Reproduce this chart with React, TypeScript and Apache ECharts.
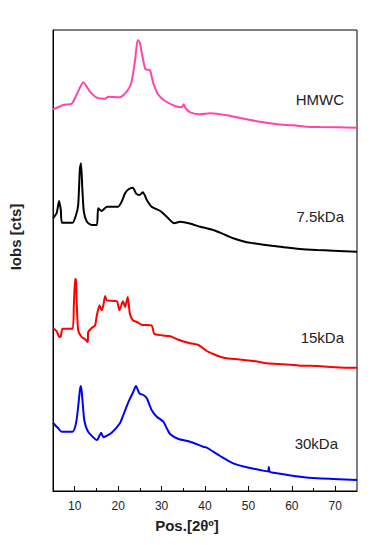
import React, { useEffect, useRef } from "react";
import * as echarts from "echarts";

// 2θ positions (degrees) and observed intensities (arbitrary, stacked offsets)
const hmwcX = [5, 7.4, 9.3, 10.4, 12, 13.5, 15.1, 17, 17.7, 20.4, 22, 23.1, 23.9, 24.5, 25, 25.6, 26.3, 27.3, 28.1, 29.3, 30.8, 33.1, 34.6, 35.1, 35.5, 36.6, 38.9, 41.2, 45, 50.4, 54.2, 56.5, 60.4, 63.5, 66.5, 75];
const hmwcY = [381.7, 386, 387.3, 396, 408.7, 399.3, 393.3, 392.3, 394.3, 393.7, 399.3, 409.3, 431, 451, 448.3, 434.3, 421.7, 421, 407.7, 396, 390, 385, 383.7, 386.7, 383, 378.7, 376.7, 377.7, 375.7, 371, 368.3, 366.7, 365.7, 364.3, 364, 363.3];

const k75X = [5, 5.85, 6.4, 6.8, 7.1, 9.5, 10.3, 10.8, 11.2, 11.45, 11.75, 12.1, 12.8, 13.9, 15.1, 15.4, 16.2, 17.4, 20, 20.8, 21.6, 22.4, 23.4, 24.1, 24.9, 25.7, 26.6, 27.7, 29.7, 31.2, 32.9, 34.3, 36.5, 38.9, 41.9, 43.5, 46.5, 49.6, 51.2, 55.8, 58.1, 61.9, 65.8, 69.5, 75];
const k75Y = [272.7, 278, 290, 281, 268.3, 268.3, 276, 286, 322.7, 327.7, 302.7, 279.3, 269.3, 266, 266, 282.7, 280, 284.3, 284.3, 289.3, 297.7, 301.7, 303.3, 297.7, 296, 298.7, 291, 284.3, 280, 274.3, 267.7, 269.3, 267.5, 264.3, 261, 258.3, 252.7, 248.7, 247.7, 245, 243.7, 242, 241, 240.3, 239.3];

const k15X = [5, 5.85, 6.45, 6.8, 7.2, 9.5, 9.8, 10.1, 10.3, 10.45, 10.8, 11.6, 12.4, 13, 13.1, 13.9, 14.7, 15.1, 15.7, 16.2, 16.6, 17, 17.4, 19.7, 20.3, 21.1, 21.6, 22.2, 22.7, 23.4, 24.3, 25.4, 27.7, 28.3, 30, 32, 33.9, 36.6, 38.5, 40.4, 41.9, 43.5, 45, 48.9, 51.2, 54.3, 58.1, 61.9, 65.8, 72.7, 75];
const k15Y = [163, 159.7, 154, 154.7, 162.3, 162.3, 185.7, 212.3, 210.7, 189, 160.7, 154, 151.7, 149, 159, 163, 165.7, 175.7, 185.7, 180.7, 185.7, 195, 190.7, 189.7, 180.7, 189.7, 184, 194, 177.3, 170.7, 169, 166.3, 165.7, 157.3, 155.7, 154.7, 151.3, 147.7, 146, 140, 137, 134.3, 132.7, 131, 130, 127.7, 126.7, 125.3, 125, 123.3, 123.3];

const k30X = [5, 6.2, 7, 9.5, 10.3, 10.8, 11.2, 11.45, 11.75, 12.2, 13.1, 15.1, 16.1, 16.6, 18.5, 20.4, 21.2, 22.4, 23.4, 24.1, 24.9, 25.8, 26.6, 27.7, 28.9, 30.4, 31.2, 32, 33.9, 36.6, 39.6, 40.4, 41.9, 43.5, 46.5, 49.6, 52.7, 54.5, 54.7, 54.9, 56.5, 58.1, 61.9, 65.8, 69.6, 75];
const k30Y = [68.3, 62.7, 59.3, 59.3, 67.7, 84.3, 101, 105, 92.7, 71, 59.3, 51, 58.3, 53.7, 58.3, 67.7, 76, 89.3, 98.3, 105, 97.7, 96, 92.7, 81, 74.3, 69.3, 62.7, 56.7, 52, 49.3, 44.3, 43.3, 39.3, 35, 27.7, 23.7, 21, 19.5, 24, 19.3, 17.7, 16.7, 14.3, 12.7, 12, 11];

const seriesNames = ["HMWC", "7.5kDa", "15kDa", "30kDa"];
const seriesColors = ["#ff44aa", "#000000", "#ff0000", "#0000ff"];
const xMajorTicks = [10, 20, 30, 40, 50, 60, 70];
const xMinorTicks = [15, 25, 35, 45, 55, 65];

const pairs = (xs: number[], ys: number[]) => xs.map((x, i) => [x, ys[i]]);

export default function App() {
  const ref = useRef<HTMLDivElement>(null);
  useEffect(() => {
    if (!ref.current) return;
    const chart = echarts.init(ref.current, undefined, { renderer: "svg" });
    const dataSets = [pairs(hmwcX, hmwcY), pairs(k75X, k75Y), pairs(k15X, k15Y), pairs(k30X, k30Y)];
    const labelPos = [
      { x: 344, y: 99 },
      { x: 344, y: 216 },
      { x: 344, y: 337 },
      { x: 338, y: 443 },
    ];
    const font = "'Liberation Sans', Arial, sans-serif";
    chart.setOption({
      animation: false,
      backgroundColor: "#ffffff",
      grid: {
        left: 53,
        right: 32,
        top: 30,
        bottom: 54,
        show: true,
        borderColor: "#000",
        borderWidth: 1,
        backgroundColor: "transparent",
      },
      xAxis: [
        {
          type: "value",
          min: 5,
          max: 75,
          axisLine: { show: true, lineStyle: { color: "#000", width: 1 } },
          axisTick: { show: true, inside: true, length: 5, customValues: xMajorTicks, lineStyle: { color: "#000" } },
          axisLabel: { show: true, customValues: xMajorTicks, color: "#222", fontSize: 12, fontFamily: font, margin: 9 },
          splitLine: { show: false },
        },
        {
          type: "value",
          min: 5,
          max: 75,
          position: "bottom",
          axisLine: { show: false },
          axisTick: { show: true, inside: true, length: 3, customValues: xMinorTicks, lineStyle: { color: "#000" } },
          axisLabel: { show: false },
          splitLine: { show: false },
        },
      ],
      yAxis: {
        type: "value",
        min: 0,
        max: 461,
        axisLine: { show: true, lineStyle: { color: "#000" } },
        axisTick: { show: false },
        axisLabel: { show: false },
        splitLine: { show: false },
      },
      series: dataSets.map((d, i) => ({
        name: seriesNames[i],
        type: "line",
        data: d,
        showSymbol: false,
        symbol: "none",
        smooth: 0.2,
        lineStyle: { color: seriesColors[i], width: 2 },
        itemStyle: { color: seriesColors[i] },
        z: 2,
      })),
      graphic: [
        ...seriesNames.map((n, i) => ({
          type: "text",
          x: labelPos[i].x,
          y: labelPos[i].y,
          style: {
            text: n,
            fill: "#222",
            font: `15px ${font}`,
            textAlign: "right",
            textVerticalAlign: "middle",
            align: "right",
            verticalAlign: "middle",
          },
        })),
        {
          type: "text",
          x: 187,
          y: 525,
          style: {
            text: "Pos.[2θº]",
            fill: "#222",
            font: `bold 15px ${font}`,
            textAlign: "center",
            textVerticalAlign: "middle",
            align: "center",
            verticalAlign: "middle",
          },
        },
        {
          type: "text",
          x: 15,
          y: 237,
          rotation: Math.PI / 2,
          style: {
            text: "Iobs [cts]",
            fill: "#222",
            font: `bold 15px ${font}`,
            textAlign: "center",
            textVerticalAlign: "middle",
            align: "center",
            verticalAlign: "middle",
          },
        },
      ],
    });
    return () => chart.dispose();
  }, []);
  return <div ref={ref} style={{ position: "fixed", left: 0, top: 0, width: 389, height: 545 }} />;
}
